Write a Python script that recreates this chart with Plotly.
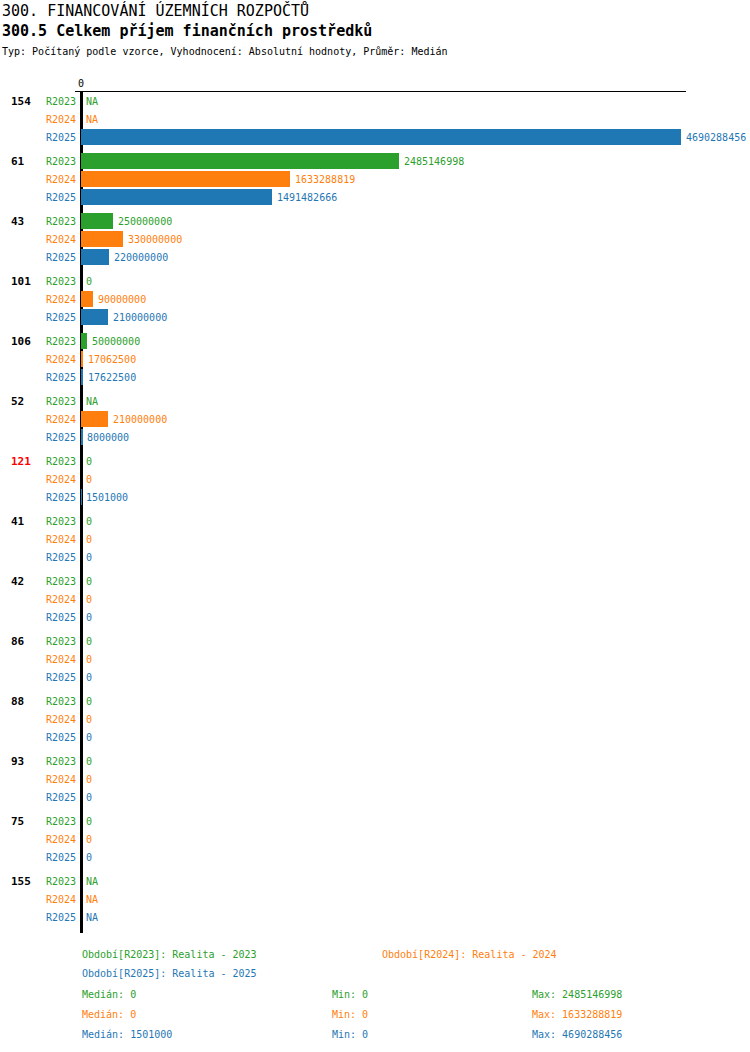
import numpy as np
import plotly.graph_objects as go

# data
groups = ["154", "61", "43", "101", "106", "52", "121", "41", "42", "86", "88", "93", "75", "155"]
r2023 = [None, 2485146998, 250000000, 0, 50000000, None, 0, 0, 0, 0, 0, 0, 0, None]
r2024 = [None, 1633288819, 330000000, 90000000, 17062500, 210000000, 0, 0, 0, 0, 0, 0, 0, None]
r2025 = [4690288456, 1491482666, 220000000, 210000000, 17622500, 8000000, 1501000, 0, 0, 0, 0, 0, 0, None]
periods = ["R2023", "R2024", "R2025"]
period_names = ["Realita - 2023", "Realita - 2024", "Realita - 2025"]
highlight = "121"

colors = ["#2ca02c", "#ff7f0e", "#1f77b4"]
series = [r2023, r2024, r2025]
FONT = "DejaVu Sans Mono"

W, H = 750, 1052
L, R, T, B = 75, 686, 92, 933
GROUP_STEP, ROW_STEP = 60, 18

vmax = max(v for s in series for v in s if v is not None)
u = vmax / 600.0


def px(x, y):
    return (x - L) / (R - L), (B - y) / (B - T)


fig = go.Figure()
annotations = []

for k, (name, vals, col) in enumerate(zip(periods, series, colors)):
    ys = [g * GROUP_STEP + k * ROW_STEP for g in range(len(groups))]
    xs = [v if v is not None else 0 for v in vals]
    fig.add_trace(go.Bar(
        x=xs, y=ys, orientation="h", width=16,
        marker=dict(color=col, line=dict(width=0)),
        hoverinfo="skip", showlegend=False))
    for x, y, v in zip(xs, ys, vals):
        # value label right of the bar end
        annotations.append(dict(
            x=x, y=y, xref="x", yref="y", xanchor="left", yanchor="middle",
            xshift=3, text=str(v) if v is not None else "NA", showarrow=False,
            font=dict(family=FONT, size=10, color=col)))
        # period label left of the zero line
        annotations.append(dict(
            x=0, y=y, xref="x", yref="y", xanchor="right", yanchor="middle",
            xshift=-3, text=name, showarrow=False,
            font=dict(family=FONT, size=10, color=col)))

for g, lab in enumerate(groups):
    annotations.append(dict(
        x=0, xref="paper", xshift=9 - L, xanchor="left",
        y=g * GROUP_STEP, yref="y", yanchor="middle",
        text="<b>%s</b>" % lab, showarrow=False,
        font=dict(family=FONT, size=11, color="red" if lab == highlight else "black")))

# titles
for text, y, size in [("300. FINANCOVÁNÍ ÚZEMNÍCH ROZPOČTŮ", 10, 15),
                      ("<b>300.5 Celkem příjem finančních prostředků</b>", 31, 15),
                      ("Typ: Počítaný podle vzorce, Vyhodnocení: Absolutní hodnoty, Průměr: Medián", 51, 10)]:
    ax, ay = px(0, y)
    annotations.append(dict(x=ax, y=ay, xref="paper", yref="paper", xanchor="left",
                            yanchor="middle", text=text, showarrow=False,
                            font=dict(family=FONT, size=size, color="black")))

# footer: period names
legend_pos = [(80, 954), (380, 954), (80, 974)]
for k in range(3):
    ax, ay = px(*legend_pos[k])
    annotations.append(dict(x=ax, y=ay, xref="paper", yref="paper", xanchor="left",
                            yanchor="middle", text="Období[%s]: %s" % (periods[k], period_names[k]),
                            showarrow=False, font=dict(family=FONT, size=10, color=colors[k])))

# footer: statistics
for k, vals in enumerate(series):
    arr = np.array([v for v in vals if v is not None], dtype=float)
    stats = [("Medián: %d" % np.median(arr), 80), ("Min: %d" % arr.min(), 330), ("Max: %d" % arr.max(), 530)]
    for text, x in stats:
        ax, ay = px(x, 994 + 20 * k)
        annotations.append(dict(x=ax, y=ay, xref="paper", yref="paper", xanchor="left",
                                yanchor="middle", text=text, showarrow=False,
                                font=dict(family=FONT, size=10, color=colors[k])))

fig.update_layout(
    width=W, height=H, margin=dict(l=L, r=W - R, t=T, b=H - B, pad=0),
    plot_bgcolor="white", paper_bgcolor="white", bargap=0,
    annotations=annotations,
    xaxis=dict(side="top", range=[-6 * u, 605 * u], showgrid=False,
               showline=True, linecolor="black", linewidth=1,
               zeroline=True, zerolinecolor="black", zerolinewidth=3,
               tickvals=[0], ticktext=["0"], ticks="",
               tickfont=dict(family=FONT, size=10, color="black")),
    yaxis=dict(range=[(len(groups) - 1) * GROUP_STEP + 2 * ROW_STEP + 16, -9],
               showgrid=False, showline=False, zeroline=False, showticklabels=False),
)

fig.write_html("out.html", config={"displayModeBar": False},
               post_script="document.body.style.margin='0';")
